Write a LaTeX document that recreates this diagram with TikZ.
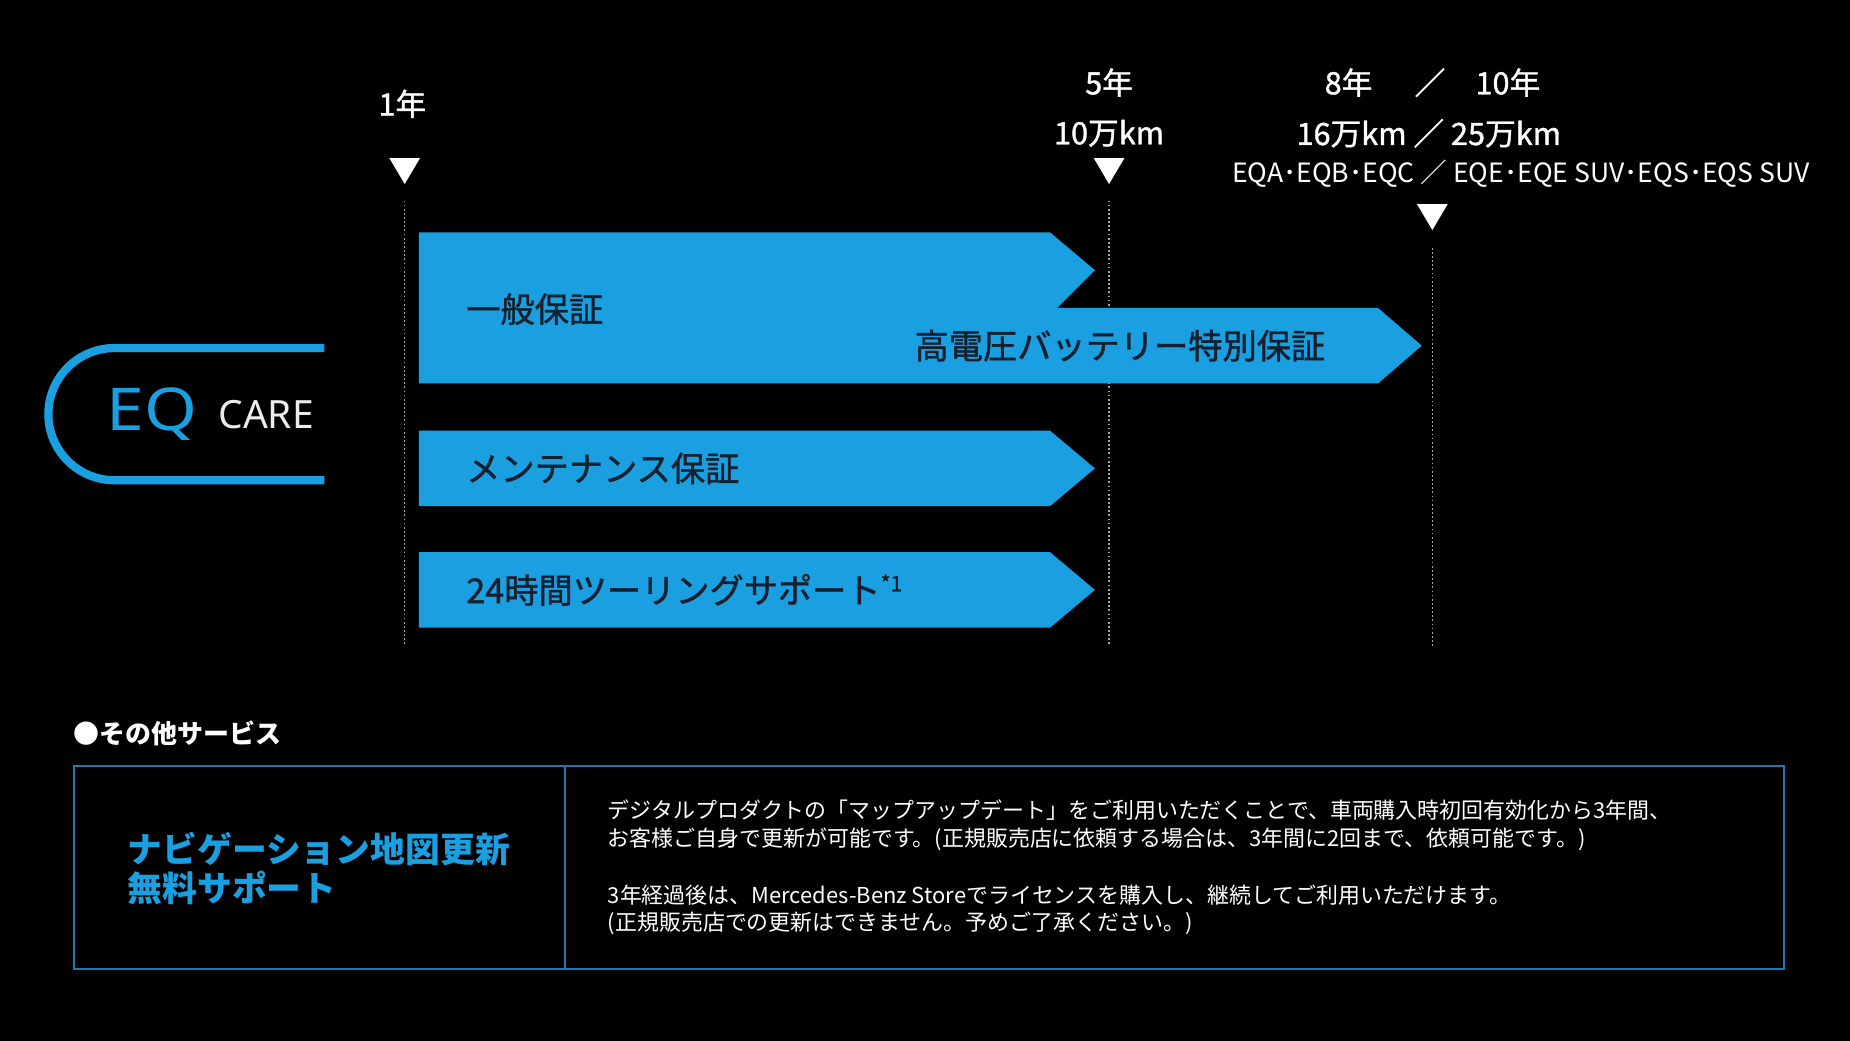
\documentclass[tikz,border=0pt]{standalone}
\usepackage{fontspec}
\setmainfont{Noto Sans CJK JP}
\newfontfamily\lat{Noto Sans}
\newfontfamily\medf[FakeBold=1.2]{Noto Sans CJK JP}
\definecolor{eqblue}{HTML}{1A9FE0}
\definecolor{boxblue}{HTML}{1E78B4}
\definecolor{dtxt}{HTML}{14202E}
\newcommand{\fs}[1]{\fontsize{#1}{#1}\selectfont}
\begin{document}
\begin{tikzpicture}[x=1pt,y=-1pt,
  tri/.style={fill=white},
  dline/.style={draw=gray!70,line width=1.2pt,dash pattern=on 1.5pt off 2pt},
  arr/.style={fill=eqblue},
  atxt/.style={text=dtxt,font=\medf\fs{29},anchor=west,inner sep=0},
  ttxt/.style={text=white,font=\medf\fs{26},inner sep=0},
  btxt/.style={text=white,font=\fs{18.6},anchor=west,inner sep=0}]
\useasboundingbox[fill=black] (0,0) rectangle (1568,882);
% markers
\node[ttxt] (y1) at (341,88) {1年};
\fill[tri] (330,134) -- (356,134) -- (343,156) -- cycle;
\coordinate (l1a) at (343,170); \coordinate (l1b) at (343,548);
\draw[dline] (l1a) -- (l1b);
\node[ttxt] (y5) at (940,70) {5年};
\node[ttxt] (k10) at (940,113) {10万km};
\fill[tri] (927,134) -- (953,134) -- (940,156) -- cycle;
\coordinate (l5a) at (940,170); \coordinate (l5b) at (940,548);
\draw[dline] (l5a) -- (l5b);
\node[ttxt] (y8) at (1143,70) {8年};
\node[ttxt] (sl1) at (1212,70) {／};
\node[ttxt] (y10) at (1278,70) {10年};
\node[ttxt] (k16) at (1211,113) {16万km ／ 25万km};
\node[ttxt,font=\fs{22.5}] (mod) at (1289,147) {EQA･EQB･EQC ／ EQE･EQE SUV･EQS･EQS SUV};
\fill[tri] (1201,173) -- (1227,173) -- (1214,195) -- cycle;
\coordinate (l8a) at (1214,210); \coordinate (l8b) at (1214,548);
\draw[dline] (l8a) -- (l8b);
% arrows
\fill[arr] (355,197) -- (890,197) -- (928,229) -- (896,261) -- (1168,261) -- (1205,293) -- (1168,325) -- (355,325) -- cycle;
\node[atxt] (g) at (395,262) {一般保証};
\node[atxt] (hv) at (775,293) {高電圧バッテリー特別保証};
\fill[arr] (355,365) -- (890,365) -- (928,397) -- (890,429) -- (355,429) -- cycle;
\node[atxt] (m) at (395,397) {メンテナンス保証};
\fill[arr] (355,468) -- (890,468) -- (928,500) -- (890,532) -- (355,532) -- cycle;
\node[atxt] (t) at (395,500) {24時間ツーリングサポート\raisebox{10pt}{\fs{18}*1}};
% logo
\draw[eqblue,line width=7pt] (275,295) -- (97,295) arc[start angle=270,end angle=90,radius=56] -- (275,407);
\node[text=eqblue,font=\lat\fs{50}\bfseries,inner sep=0,xscale=1.15] (eq) at (129,351) {EQ};
\node[text=white!85!gray,font=\lat\fs{33},inner sep=0,anchor=west] (care) at (185,351) {CARE};
% other services
\node[text=white,font=\fs{22}\bfseries,anchor=west,inner sep=0] (os) at (62,622) {●その他サービス};
\draw[boxblue,line width=1.5pt] (63,649) rectangle (1512,821);
\draw[boxblue,line width=1.5pt] (479,649) -- (479,821);
\node[text=eqblue,font=\fs{29.5}\bfseries,anchor=west,inner sep=0,align=left] (nav) at (108,736) {ナビゲーション地図更新\\[4pt]無料サポート};
\node[btxt] (b1) at (515,687) {デジタルプロダクトの「マップアップデート」をご利用いただくことで、車両購入時初回有効化から3年間、};
\node[btxt] (b2) at (515,711) {お客様ご自身で更新が可能です。(正規販売店に依頼する場合は、3年間に2回まで、依頼可能です。)};
\node[btxt] (b3) at (515,759) {3年経過後は、Mercedes-Benz Storeでライセンスを購入し、継続してご利用いただけます。};
\node[btxt] (b4) at (515,783) {(正規販売店での更新はできません。予めご了承ください。)};
\end{tikzpicture}
\end{document}
